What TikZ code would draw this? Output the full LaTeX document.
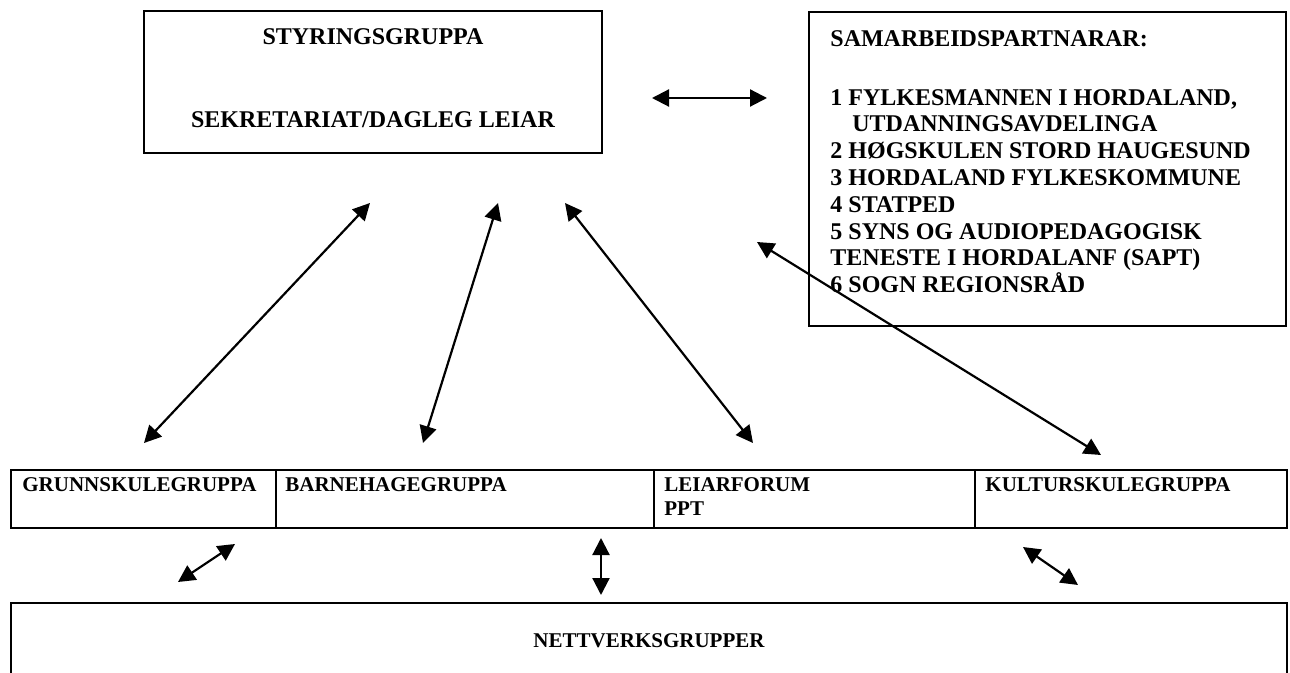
\documentclass[tikz,border=0pt]{standalone}
\usepackage{fontspec}
\setmainfont{Liberation Serif}
\usetikzlibrary{arrows.meta}

\begin{document}
\begin{tikzpicture}[x=0.5pt, y=-0.5pt,
    box/.style={draw, line width=0.9pt, inner sep=0pt},
    cell/.style={draw, line width=1.4pt, inner sep=0pt, minimum height=29pt},
    bigtext/.style={font=\fontsize{12}{13.4}\selectfont\bfseries, inner sep=0pt},
    celltext/.style={font=\fontsize{10.5}{12}\selectfont\bfseries, inner sep=0pt, anchor=north west, align=left},
    twoway/.style={{Triangle[length=8.5pt, width=8.5pt]}-{Triangle[length=8.5pt, width=8.5pt]}, line width=1.1pt}]

    \useasboundingbox (0,0) rectangle (1290,673);

    \node[box, minimum width=229pt, minimum height=71pt] (styring) at (373,82) {};
    \node[bigtext] (styringtitle) at (373,37) {STYRINGSGRUPPA};
    \node[bigtext] (sekretariat) at (373,120) {SEKRETARIAT/DAGLEG LEIAR};

    \node[box, minimum width=238.5pt, minimum height=157pt] (partnar) at (1047.5,169) {};
    \node[bigtext, anchor=north west, align=left] (partnarlist) at (830,30) {SAMARBEIDSPARTNARAR:\\[16pt]
        1 FYLKESMANNEN I HORDALAND,\\
        \hspace*{11pt}UTDANNINGSAVDELINGA\\
        2 HØGSKULEN STORD HAUGESUND\\
        3 HORDALAND FYLKESKOMMUNE\\
        4 STATPED\\
        5 SYNS OG AUDIOPEDAGOGISK\\
        TENESTE I HORDALANF (SAPT)\\
        6 SOGN REGIONSRÅD};

    \node[cell, minimum width=132.5pt] (grunn) at (143.5,499) {};
    \node[cell, minimum width=189pt] (barne) at (465,499) {};
    \node[cell, minimum width=160.5pt] (leiar) at (814.5,499) {};
    \node[cell, minimum width=156pt] (kultur) at (1131,499) {};
    \node[celltext] (grunntext) at (22,477) {GRUNNSKULEGRUPPA};
    \node[celltext] (barnetext) at (285,477) {BARNEHAGEGRUPPA};
    \node[celltext] (leiartext) at (664,477) {LEIARFORUM\\PPT};
    \node[celltext] (kulturtext) at (985,477) {KULTURSKULEGRUPPA};

    \coordinate (nettsw) at (11,673);
    \coordinate (nettnw) at (11,603);
    \coordinate (nettne) at (1287,603);
    \coordinate (nettse) at (1287,673);
    \draw[line width=1.4pt] (nettsw) -- (nettnw) -- (nettne) -- (nettse);
    \node[celltext, anchor=center] (netttext) at (649,641) {NETTVERKSGRUPPER};

    \coordinate (hleft) at (652,98);
    \coordinate (hright) at (767,98);
    \coordinate (grunntop) at (370,203);
    \coordinate (grunnend) at (144,443);
    \coordinate (barnetop) at (498,203);
    \coordinate (barneend) at (423,443);
    \coordinate (leiartop) at (565,203);
    \coordinate (leiarend) at (753,443);
    \coordinate (kulturtop) at (757,242);
    \coordinate (kulturend) at (1101,455);
    \coordinate (grunnlow) at (178,582);
    \coordinate (grunnhigh) at (235,544);
    \coordinate (barnehigh) at (601,538);
    \coordinate (barnelow) at (601,595);
    \coordinate (kulturhigh) at (1023,547);
    \coordinate (kulturlow) at (1078,585);

    \draw[twoway] (hleft) -- (hright);
    \draw[twoway] (grunntop) -- (grunnend);
    \draw[twoway] (barnetop) -- (barneend);
    \draw[twoway] (leiartop) -- (leiarend);
    \draw[twoway] (kulturtop) -- (kulturend);
    \draw[twoway] (grunnlow) -- (grunnhigh);
    \draw[twoway] (barnehigh) -- (barnelow);
    \draw[twoway] (kulturhigh) -- (kulturlow);
\end{tikzpicture}
\end{document}
